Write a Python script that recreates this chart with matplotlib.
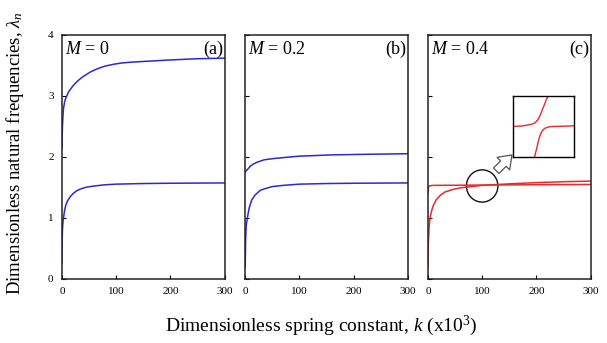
import matplotlib
matplotlib.use("Agg")
import matplotlib.pyplot as plt
from matplotlib.patches import Ellipse, FancyArrowPatch

plt.rcParams['font.family'] = ['Liberation Serif', 'DejaVu Serif']
plt.rcParams['mathtext.fontset'] = 'custom'
plt.rcParams['mathtext.rm'] = 'Liberation Serif'
plt.rcParams['mathtext.it'] = 'Liberation Serif:italic'

# values (k in units of 10^3)
k_a_up = [0, 0.5, 1, 2, 3, 5, 7, 9, 12, 15, 20, 25, 31, 38, 45, 52, 59, 70, 80, 96, 110, 130, 150, 200, 250, 300]
a_up = [2.13, 2.35, 2.5, 2.68, 2.8, 2.9, 2.96, 3.0, 3.06, 3.1, 3.16, 3.21, 3.26, 3.31, 3.35, 3.39, 3.42,
        3.46, 3.49, 3.52, 3.54, 3.555, 3.565, 3.59, 3.61, 3.62]
k_a_low = [0, 0.3, 0.5, 1, 2, 3, 5, 7, 10, 15, 20, 27, 34, 45, 60, 80, 100, 150, 200, 300]
a_low = [0.25, 0.45, 0.6, 0.8, 0.93, 1.0, 1.12, 1.2, 1.27, 1.34, 1.39, 1.44, 1.47, 1.5, 1.52, 1.54, 1.55,
         1.56, 1.565, 1.57]

k_b_up = [0, 2, 5, 10, 15, 22, 35, 52, 75, 100, 130, 157, 220, 300]
b_up = [1.75, 1.77, 1.8, 1.85, 1.88, 1.91, 1.95, 1.97, 1.99, 2.01, 2.02, 2.03, 2.04, 2.05]
k_b_low = [0, 0.3, 0.5, 1, 2, 4, 7, 12, 18, 28, 38, 50, 70, 100, 150, 200, 300]
b_low = [0.19, 0.4, 0.55, 0.72, 0.88, 1.0, 1.15, 1.29, 1.37, 1.45, 1.48, 1.51, 1.53, 1.55, 1.56, 1.565, 1.57]

k_c_flat = [0, 0.5, 1, 2, 5, 10, 50, 100, 200, 300]
c_flat = [1.4, 1.46, 1.5, 1.52, 1.525, 1.53, 1.532, 1.535, 1.54, 1.545]
k_c_rise = [0, 0.3, 0.5, 1, 2, 4, 7, 10, 15, 22, 31, 45, 60, 80, 100, 150, 200, 250, 300]
c_rise = [0.19, 0.4, 0.5, 0.62, 0.82, 1.0, 1.12, 1.2, 1.29, 1.36, 1.42, 1.46, 1.49, 1.51, 1.53, 1.555,
          1.575, 1.59, 1.60]

# zoomed sketch of the veering near k = 100
ins1_x = [0, 0.174, 0.31, 0.36, 0.38, 0.41, 0.435, 0.465, 0.49, 0.52, 0.543, 0.58]
ins1_y = [0.5, 0.511, 0.538, 0.56, 0.58, 0.615, 0.663, 0.73, 0.80, 0.87, 0.935, 1.0]
ins2_x = [0.353, 0.37, 0.391, 0.41, 0.43, 0.45, 0.473, 0.50, 0.527, 0.58, 0.636, 0.826, 1.0]
ins2_y = [0.0, 0.07, 0.147, 0.235, 0.31, 0.37, 0.418, 0.452, 0.473, 0.492, 0.5, 0.505, 0.511]

titles = ["$M$ = 0", "$M$ = 0.2", "$M$ = 0.4"]
tags = ["(a)", "(b)", "(c)"]
lefts = [0.102, 0.404, 0.705]

fig = plt.figure(figsize=(6.07, 3.43), dpi=100)
axes = []
for i in range(3):
    ax = fig.add_axes([lefts[i], 0.188, 0.268, 0.71])
    ax.set_xlim(0, 300)
    ax.set_ylim(0, 4)
    ax.set_xticks([0, 100, 200, 300])
    ax.set_yticks([0, 1, 2, 3, 4])
    ax.tick_params(direction="in", length=3, width=0.8, labelsize=8, pad=6)
    if i > 0:
        ax.set_yticklabels([])
    for s in ax.spines.values():
        s.set_linewidth(1.1)
        s.set_color("#222222")
    ax.text(0.02, 0.975, titles[i], transform=ax.transAxes, ha="left", va="top", fontsize=13)
    ax.text(0.99, 0.975, tags[i], transform=ax.transAxes, ha="right", va="top", fontsize=13)
    axes.append(ax)

blue = "#2a2ad0"
red = "#e8282c"
axes[0].plot(k_a_up, a_up, color=blue, lw=1.1)
axes[0].plot(k_a_low, a_low, color=blue, lw=1.1)
axes[1].plot(k_b_up, b_up, color=blue, lw=1.1)
axes[1].plot(k_b_low, b_low, color=blue, lw=1.1)
axes[2].plot(k_c_flat, c_flat, color=red, lw=1.1)
axes[2].plot(k_c_rise, c_rise, color=red, lw=1.1)

ax = axes[2]
ax.add_patch(Ellipse((100, 1.52), 58, 0.53, fill=False, ec="#111111", lw=1.0))
# hollow arrow pointing from the circle to the inset
arr = FancyArrowPatch((126, 1.77), (155, 2.03),
                      arrowstyle="simple,head_width=1.6,head_length=1.1,tail_width=0.7",
                      mutation_scale=8, shrinkA=0, shrinkB=0,
                      fc="white", ec="#555555", lw=0.9)
ax.add_patch(arr)

ins = fig.add_axes([513 / 607, 1 - 157 / 343, 61 / 607, 61 / 343])
ins.plot(ins1_x, ins1_y, color=red, lw=1.0)
ins.plot(ins2_x, ins2_y, color=red, lw=1.0)
ins.set_xlim(0, 1)
ins.set_ylim(0, 1)
ins.set_xticks([])
ins.set_yticks([])
for s in ins.spines.values():
    s.set_linewidth(1.0)

fig.text(0.024, 0.553, r"Dimensionless natural frequencies, $\lambda_n$",
         rotation=90, ha="center", va="center", fontsize=13.5)
fig.text(0.53, 0.05, r"Dimensionless spring constant, $k$ (x10$^3$)",
         ha="center", va="center", fontsize=14)

plt.savefig("out.png", dpi=100)
